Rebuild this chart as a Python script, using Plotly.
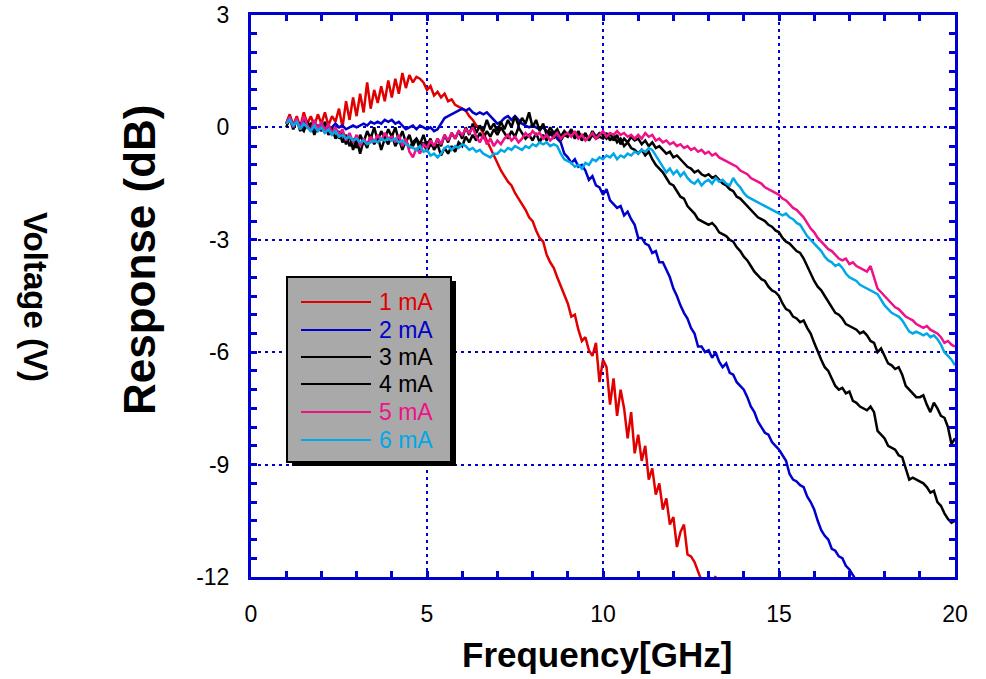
import plotly.graph_objects as go

# ---------------- data ----------------
freq = [round(1.0 + 0.1 * i, 1) for i in range(191)]  # GHz sample grid

names = ["1 mA", "2 mA", "3 mA", "4 mA", "5 mA", "6 mA"]

resp_1mA = [
    0.1, 0.35, 0.05, 0.3, 0.0, 0.4, 0.1, 0.3, 0.05, 0.35,
    0.1, 0.4, 0.05, 0.3, 0.15, 0.5, 0.0, 0.7, 0.2, 0.8,
    0.3, 0.9, 0.4, 1.2, 0.5, 1.0, 0.65, 1.1, 0.7, 1.25,
    0.8, 1.3, 0.9, 1.45, 1.05, 1.4, 1.2, 1.35, 1.3, 1.2,
    1.0, 1.1, 0.85, 0.95, 0.8, 0.9, 0.7, 0.75, 0.6, 0.55,
    0.5, 0.45, 0.3, 0.2, 0.05, 0.0, -0.15, -0.35, -0.55, -0.75,
    -0.95, -1.15, -1.3, -1.45, -1.55, -1.75, -1.9, -2.05, -2.2, -2.4,
    -2.5, -2.75, -2.95, -3.05, -3.4, -3.6, -3.75, -4.0, -4.25, -4.45,
    -4.7, -5.05, -5.0, -5.4, -5.7, -5.6, -5.95, -6.1, -5.75, -6.8,
    -6.2, -6.4, -7.4, -6.7, -7.7, -7.0, -7.5, -8.3, -7.6, -8.7,
    -8.2, -8.9, -8.5, -9.4, -9.1, -9.8, -9.5, -10.2, -9.9, -10.6,
    -10.4, -11.2, -10.8, -10.6, -11.4, -11.45, -11.6, -11.85, -12.1, -12.2,
    -11.97, -12.2, -11.97,
]

resp_2mA = [
    0.1, 0.2, 0.05, 0.15, 0.1, 0.0, 0.1, 0.05, -0.05, 0.05,
    0.0, 0.05, -0.05, 0.0, 0.1, 0.0, 0.05, -0.05, 0.0, 0.05,
    0.0, 0.05, 0.1, 0.05, 0.15, 0.1, 0.15, 0.1, 0.2, 0.15,
    0.2, 0.1, 0.15, 0.05, -0.05, 0.0, 0.05, -0.05, 0.05, 0.0,
    -0.05, 0.0, -0.1, -0.05, 0.1, 0.25, 0.3, 0.35, 0.4, 0.45,
    0.5, 0.45, 0.5, 0.4, 0.35, 0.4, 0.35, 0.4, 0.3, 0.2,
    0.1, 0.15, 0.25, 0.3, 0.2, 0.3, 0.2, 0.1, 0.05, 0.0,
    0.05, 0.0, -0.05, 0.0, -0.1, -0.2, -0.15, -0.3, -0.4, -0.7,
    -0.8, -0.95, -0.85, -1.05, -1.0, -1.15, -1.4, -1.3, -1.55, -1.6,
    -1.8, -1.65, -1.95, -2.05, -2.15, -2.1, -2.35, -2.25, -2.45, -2.6,
    -2.95, -2.95, -3.1, -3.15, -3.35, -3.3, -3.6, -3.6, -3.8, -4.0,
    -4.3, -4.5, -4.75, -4.95, -5.1, -5.35, -5.5, -5.85, -5.85, -6.0,
    -5.95, -6.15, -6.0, -6.25, -6.4, -6.3, -6.55, -6.6, -6.8, -6.9,
    -7.0, -7.2, -7.45, -7.6, -7.85, -8.0, -8.15, -8.2, -8.4, -8.5,
    -8.6, -8.75, -8.9, -9.25, -9.4, -9.45, -9.55, -9.6, -9.85, -10.0,
    -10.2, -10.5, -10.75, -10.9, -11.0, -11.25, -11.3, -11.45, -11.5, -11.7,
    -11.8, -11.95, -12.1,
]

resp_3mA = [
    0.1, 0.3, 0.0, 0.2, -0.1, 0.2, 0.0, 0.1, -0.2, 0.05,
    -0.1, 0.15, -0.2, 0.0, -0.3, -0.1, -0.4, -0.2, -0.5, -0.3,
    -0.55, -0.2, -0.4, -0.1, -0.3, 0.0, -0.35, -0.1, -0.3, -0.05,
    -0.25, 0.0, -0.35, -0.1, -0.4, -0.2, -0.5, -0.3, -0.6, -0.4,
    -0.65, -0.45, -0.55, -0.3, -0.5, -0.2, -0.4, -0.15, -0.3, -0.1,
    -0.3, 0.0, -0.2, 0.1, -0.15, 0.05, -0.1, 0.2, -0.05, 0.1,
    -0.1, 0.15, -0.05, 0.2, 0.0, 0.3, 0.05, 0.25, 0.1, 0.4,
    0.0, 0.2, -0.1, 0.1, -0.2, 0.0, -0.15, -0.05, -0.25, -0.1,
    -0.2, -0.05, -0.25, -0.1, -0.3, -0.15, -0.35, -0.2, -0.3, -0.25,
    -0.3, -0.15, -0.35, -0.2, -0.4, -0.3, -0.5, -0.4, -0.55, -0.6,
    -0.7, -0.6, -0.75, -0.65, -0.85, -1.0, -1.1, -1.2, -1.35, -1.5,
    -1.55, -1.7, -1.85, -1.9, -2.1, -2.2, -2.3, -2.45, -2.5, -2.55,
    -2.6, -2.55, -2.65, -2.8, -2.85, -2.9, -3.0, -3.05, -3.2, -3.3,
    -3.45, -3.55, -3.7, -3.85, -3.95, -4.05, -4.1, -4.25, -4.35, -4.4,
    -4.5, -4.7, -4.85, -4.9, -5.05, -5.1, -5.2, -5.15, -5.35, -5.5,
    -5.75, -6.0, -6.2, -6.4, -6.5, -6.7, -6.9, -7.0, -6.95, -7.1,
    -7.05, -7.3, -7.35, -7.45, -7.5, -7.55, -7.45, -7.6, -8.1, -8.2,
    -8.3, -8.5, -8.55, -8.6, -8.75, -8.8, -9.1, -9.4, -9.35, -9.4,
    -9.45, -9.5, -9.6, -9.75, -9.7, -10.0, -10.1, -10.3, -10.45, -10.55,
    -10.5,
]

resp_4mA = [
    0.0, 0.25, -0.05, 0.2, 0.0, -0.1, 0.15, -0.05, 0.1, -0.1,
    0.05, -0.15, 0.0, -0.2, -0.05, -0.3, -0.15, -0.45, -0.2, -0.6,
    -0.3, -0.7, -0.35, -0.55, -0.2, -0.45, -0.25, -0.6, -0.3, -0.45,
    -0.2, -0.5, -0.3, -0.6, -0.35, -0.55, -0.4, -0.3, -0.45, -0.2,
    -0.5, -0.3, -0.6, -0.45, -0.75, -0.55, -0.7, -0.5, -0.65, -0.4,
    -0.5, -0.25, -0.4, -0.2, -0.35, -0.15, -0.3, -0.1, -0.25, -0.05,
    -0.2, 0.0, -0.15, -0.3, -0.1, -0.25, 0.0, -0.15, -0.3, -0.2,
    -0.35, -0.15, -0.4, -0.2, -0.35, -0.1, -0.3, -0.15, -0.35, -0.2,
    -0.25, -0.1, -0.3, -0.15, -0.35, -0.2, -0.3, -0.1, -0.25, -0.15,
    -0.2, -0.3, -0.15, -0.35, -0.2, -0.45, -0.3, -0.4, -0.25, -0.35,
    -0.3, -0.45, -0.35, -0.5, -0.4, -0.55, -0.5, -0.6, -0.7, -0.65,
    -0.8, -0.75, -0.85, -0.95, -1.05, -1.1, -1.2, -1.15, -1.25, -1.3,
    -1.25, -1.35, -1.3, -1.4, -1.5, -1.55, -1.65, -1.7, -1.85, -1.9,
    -2.0, -2.1, -2.2, -2.3, -2.4, -2.45, -2.5, -2.6, -2.65, -2.75,
    -2.8, -2.95, -3.05, -3.1, -3.2, -3.3, -3.35, -3.5, -3.7, -3.9,
    -4.1, -4.25, -4.35, -4.5, -4.65, -4.8, -4.95, -5.0, -5.1, -5.25,
    -5.3, -5.35, -5.4, -5.5, -5.45, -5.55, -5.7, -5.75, -6.0, -5.9,
    -6.1, -6.3, -6.35, -6.45, -6.4, -6.6, -6.9, -7.0, -7.1, -7.2,
    -7.2, -7.15, -7.4, -7.6, -7.35, -7.5, -7.7, -7.75, -8.0, -8.45,
    -8.3,
]

resp_5mA = [
    0.1, 0.3, 0.0, 0.25, -0.05, 0.3, 0.05, -0.1, 0.2, -0.05,
    0.15, -0.1, 0.1, -0.15, 0.0, -0.2, -0.05, -0.35, -0.15, -0.4,
    -0.2, -0.5, -0.3, -0.45, -0.25, -0.4, -0.2, -0.35, -0.15, -0.3,
    -0.25, -0.4, -0.2, -0.5, -0.3, -0.65, -0.8, -0.55, -0.7, -0.45,
    -0.55, -0.35, -0.5, -0.3, -0.45, -0.2, -0.35, -0.15, -0.3, -0.1,
    -0.2, -0.05, -0.15, 0.0, -0.25, -0.4, -0.2, -0.45, -0.3, -0.5,
    -0.35, -0.45, -0.3, -0.2, -0.35, -0.25, -0.4, -0.3, -0.15, -0.25,
    -0.1, -0.2, -0.15, -0.3, -0.2, -0.35, -0.25, -0.15, -0.3, -0.2,
    -0.15, -0.25, -0.1, -0.3, -0.2, -0.35, -0.25, -0.15, -0.3, -0.2,
    -0.1, -0.25, -0.15, -0.2, -0.1, -0.2, -0.15, -0.25, -0.2, -0.3,
    -0.2, -0.3, -0.15, -0.25, -0.2, -0.35, -0.3, -0.4, -0.35, -0.45,
    -0.4, -0.5, -0.45, -0.55, -0.5, -0.6, -0.55, -0.65, -0.6, -0.7,
    -0.65, -0.75, -0.7, -0.8, -0.85, -0.9, -0.95, -1.0, -1.05, -1.15,
    -1.2, -1.25, -1.35, -1.4, -1.45, -1.5, -1.6, -1.65, -1.7, -1.75,
    -1.8, -1.9, -1.95, -2.05, -2.15, -2.2, -2.3, -2.4, -2.55, -2.7,
    -2.8, -2.95, -3.05, -3.15, -3.25, -3.3, -3.4, -3.5, -3.55, -3.5,
    -3.65, -3.6, -3.7, -3.75, -3.8, -3.85, -3.7, -4.0, -4.3, -4.4,
    -4.5, -4.6, -4.7, -4.8, -4.85, -4.95, -5.05, -5.1, -5.15, -5.25,
    -5.3, -5.35, -5.3, -5.4, -5.45, -5.5, -5.6, -5.75, -5.7, -5.8,
    -5.85,
]

resp_6mA = [
    0.1, 0.2, 0.05, 0.15, -0.05, 0.1, 0.0, -0.1, 0.05, -0.1,
    0.0, -0.15, -0.05, -0.2, -0.1, -0.25, -0.2, -0.3, -0.25, -0.35,
    -0.3, -0.4, -0.35, -0.45, -0.4, -0.35, -0.4, -0.3, -0.35, -0.3,
    -0.35, -0.3, -0.4, -0.35, -0.45, -0.5, -0.55, -0.6, -0.5, -0.65,
    -0.6, -0.75, -0.7, -0.8, -0.7, -0.55, -0.5, -0.6, -0.5, -0.55,
    -0.45, -0.5, -0.6, -0.55, -0.65, -0.6, -0.7, -0.75, -0.8, -0.7,
    -0.7, -0.6, -0.65, -0.55, -0.6, -0.5, -0.55, -0.6, -0.5, -0.55,
    -0.45, -0.5, -0.4, -0.45, -0.4, -0.5, -0.45, -0.5, -0.7, -0.85,
    -0.9, -0.95, -1.05, -1.0, -1.1, -0.95, -1.0, -0.85, -0.9, -0.8,
    -0.85, -0.75, -0.8, -0.7, -0.85, -0.75, -0.8, -0.7, -0.75, -0.65,
    -0.7, -0.6, -0.65, -0.55, -0.6, -0.75, -0.9, -1.05, -1.2, -1.1,
    -1.25, -1.15, -1.3, -1.2, -1.35, -1.45, -1.5, -1.4, -1.55, -1.45,
    -1.4, -1.5, -1.35, -1.45, -1.4, -1.5, -1.55, -1.35, -1.5, -1.6,
    -1.75, -1.85, -1.9, -1.95, -2.0, -2.05, -2.1, -2.15, -2.2, -2.25,
    -2.3, -2.35, -2.3, -2.4, -2.45, -2.55, -2.6, -2.75, -2.9, -3.0,
    -3.1, -3.2, -3.3, -3.45, -3.55, -3.6, -3.7, -3.65, -3.75, -3.9,
    -4.0, -4.05, -4.1, -4.2, -4.25, -4.3, -4.35, -4.4, -4.45, -4.6,
    -4.75, -4.85, -4.95, -5.0, -5.05, -5.15, -5.3, -5.45, -5.5, -5.45,
    -5.5, -5.55, -5.5, -5.6, -5.55, -5.65, -5.8, -6.0, -6.1, -6.2,
    -6.35,
]

series = [resp_1mA, resp_2mA, resp_3mA, resp_4mA, resp_5mA, resp_6mA]
colors = ["#e00000", "#0000cc", "#000000", "#000000", "#ee1188", "#00a8e8"]

x_ticks = [0, 5, 10, 15, 20]
y_ticks = [3, 0, -3, -6, -9, -12]
y_ticktext = ["3", "0", "-3", "-6", "-9", "-12"]

# ---------------- figure ----------------
W, H = 986, 679
L, R, T, B = 251, 955, 15, 577          # plot area in pixels
FONT = "Liberation Sans, Arial, sans-serif"
AXC = "#0000d0"

fig = go.Figure()
for name, ys, c in zip(names, series, colors):
    fig.add_trace(go.Scatter(x=freq[:len(ys)], y=ys, mode="lines", name=name,
                             line=dict(color=c, width=2.5), showlegend=False))


def px(xpix):
    return (xpix - L) / (R - L)


def py(ypix):
    return (B - ypix) / (B - T)


axis_common = dict(
    automargin=False, ticklabeloverflow="allow",
    showline=True, linecolor=AXC, linewidth=3, mirror="allticks",
    ticks="inside", ticklen=6, tickwidth=2.5, tickcolor=AXC,
    showgrid=True, gridcolor=AXC, gridwidth=2, griddash="3px,4px",
    zeroline=False, tickfont=dict(family=FONT, size=23, color="black"),
)

fig.update_xaxes(range=[0, 20], tickvals=x_ticks, ticktext=[str(v) for v in x_ticks],
                 minor=dict(dtick=1, ticks="inside", ticklen=6, tickwidth=2.5,
                            tickcolor=AXC, showgrid=False),
                 ticklabelstandoff=14, **axis_common)
fig.update_yaxes(range=[-12, 3], tickvals=y_ticks, ticktext=y_ticktext,
                 minor=dict(dtick=0.5, ticks="inside", ticklen=6, tickwidth=2.5,
                            tickcolor=AXC, showgrid=False),
                 ticklabelstandoff=14, **axis_common)

shapes = []
annotations = []

# legend box with drop shadow
bx0, bx1, by0, by1 = 287, 451, 277, 462
shapes.append(dict(type="rect", xref="paper", yref="paper",
                   x0=px(bx0 + 5), x1=px(bx1 + 5), y0=py(by1 + 4), y1=py(by0 + 4),
                   fillcolor="black", line=dict(width=0), layer="above"))
shapes.append(dict(type="rect", xref="paper", yref="paper",
                   x0=px(bx0), x1=px(bx1), y0=py(by1), y1=py(by0),
                   fillcolor="#a9a9a9", line=dict(color="black", width=2), layer="above"))
row_y = [302, 330, 357, 384, 412, 440]
for name, c, yy in zip(names, colors, row_y):
    shapes.append(dict(type="line", xref="paper", yref="paper",
                       x0=px(301), x1=px(371), y0=py(yy), y1=py(yy),
                       line=dict(color=c, width=2), layer="above"))
    annotations.append(dict(xref="paper", yref="paper", x=px(377), y=py(yy),
                            xanchor="left", yanchor="middle", showarrow=False,
                            text=name, font=dict(family=FONT, size=23, color=c)))

# axis titles
annotations.append(dict(xref="paper", yref="paper", x=px(597), y=py(655),
                        xanchor="center", yanchor="middle", showarrow=False,
                        text="Frequency[GHz]",
                        font=dict(family=FONT, size=35, color="black", weight="bold")))
annotations.append(dict(xref="paper", yref="paper", x=px(139), y=py(260),
                        xanchor="center", yanchor="middle", showarrow=False,
                        textangle=-90, text="Response (dB)",
                        font=dict(family=FONT, size=44, color="black", weight="bold")))
annotations.append(dict(xref="paper", yref="paper", x=px(36), y=py(297),
                        xanchor="center", yanchor="middle", showarrow=False,
                        textangle=90, text="Voltage (V)",
                        font=dict(family=FONT, size=33, color="black", weight="bold")))

fig.update_layout(
    width=W, height=H,
    margin=dict(l=L, r=W - R, t=T, b=H - B, pad=0),
    paper_bgcolor="white", plot_bgcolor="white",
    showlegend=False, shapes=shapes, annotations=annotations,
    font=dict(family=FONT),
)

fig.write_html("out.html",
               config={"displayModeBar": False},
               post_script="document.body.style.margin='0px';"
                           "document.body.style.overflow='hidden';")
